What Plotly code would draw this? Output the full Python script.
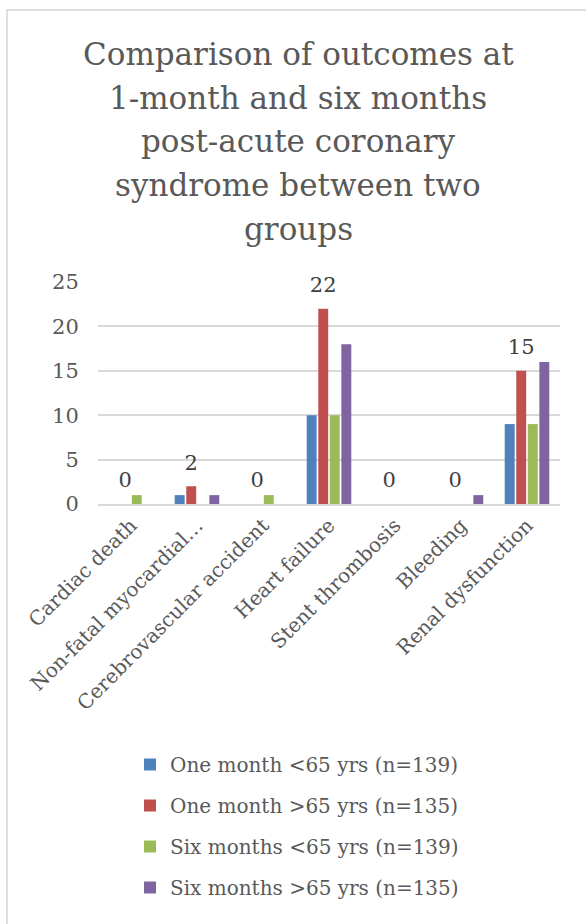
import plotly.graph_objects as go

categories = ["Cardiac death", "Non-fatal myocardial…", "Cerebrovascular accident",
              "Heart failure", "Stent thrombosis", "Bleeding", "Renal dysfunction"]
one_month_under65 = [0, 1, 0, 10, 0, 0, 9]
one_month_over65 = [0, 2, 0, 22, 0, 0, 15]
six_months_under65 = [1, 0, 1, 10, 0, 0, 9]
six_months_over65 = [0, 1, 0, 18, 0, 1, 16]

series_names = ["One month <65 yrs (n=139)", "One month >65 yrs (n=135)",
                "Six months <65 yrs (n=139)", "Six months >65 yrs (n=135)"]
series_values = [one_month_under65, one_month_over65, six_months_under65, six_months_over65]
colors = ["#4f81bd", "#c0504d", "#9bbb59", "#8064a2"]

title_lines = ["Comparison of outcomes at", "1-month and six months",
               "post-acute coronary", "syndrome between two", "groups"]

FONT = "DejaVu Serif"
GREY = "#595959"

# plot-area geometry in pixels (used to place paper-referenced decorations)
L, R, T, B, W, H = 98, 26, 282, 420, 586, 924
PH = H - T - B
PW = W - L - R


def py(p):
    return (H - B - p) / PH


def px(p):
    return (p - L) / PW


fig = go.Figure()
for i, (name, vals, col) in enumerate(zip(series_names, series_values, colors)):
    labelled = (i == 1)
    fig.add_trace(go.Bar(
        x=categories, y=vals, name=name, legendgroup=f"g{i}",
        marker=dict(color=col, line=dict(width=0)),
        text=[str(v) for v in vals] if labelled else None,
        # value in a large span, followed by a short blank line that lifts it off the bar
        texttemplate="<span style='font-size:21px'>%{text}</span><br> " if labelled else None,
        textposition="outside" if labelled else None,
        constraintext="none",
        textfont=dict(family=FONT, size=9, color="#404040"),
        cliponaxis=False,
    ))

annotations = []
for k, line in enumerate(title_lines):
    annotations.append(dict(
        text=line, xref="paper", yref="paper", x=px(298), y=py(54 + 43.7 * k),
        xanchor="center", yanchor="middle", showarrow=False,
        font=dict(family=FONT, size=31, color=GREY),
    ))

fig.update_layout(
    width=W, height=H,
    paper_bgcolor="white", plot_bgcolor="white",
    font=dict(family=FONT, color=GREY),
    barmode="group", bargap=0.3, bargroupgap=0.14,
    margin=dict(l=L, r=R, t=T, b=B),
    annotations=annotations,
    xaxis=dict(
        tickangle=-45, tickfont=dict(family=FONT, size=20, color=GREY),
        showline=True, linecolor="#d9d9d9", linewidth=1.5, ticks="",
    ),
    yaxis=dict(
        range=[0, 25], dtick=5, showgrid=True, gridcolor="#d9d9d9", gridwidth=1.5,
        tickfont=dict(family=FONT, size=21, color=GREY), zeroline=False,
        showline=False, ticks="outside", ticklen=14, tickcolor="white",
    ),
    legend=dict(
        orientation="v", x=px(130), xanchor="left", y=py(745), yanchor="top",
        font=dict(family=FONT, size=20, color=GREY), itemwidth=30,
        tracegroupgap=12, traceorder="grouped",
    ),
    shapes=[dict(type="rect", xref="paper", yref="paper",
                 x0=px(7), x1=px(700), y0=py(1200), y1=py(10),
                 line=dict(color="#d4d4d4", width=1.5), fillcolor="rgba(0,0,0,0)",
                 layer="below")],
)

fig.write_html("out.html")
